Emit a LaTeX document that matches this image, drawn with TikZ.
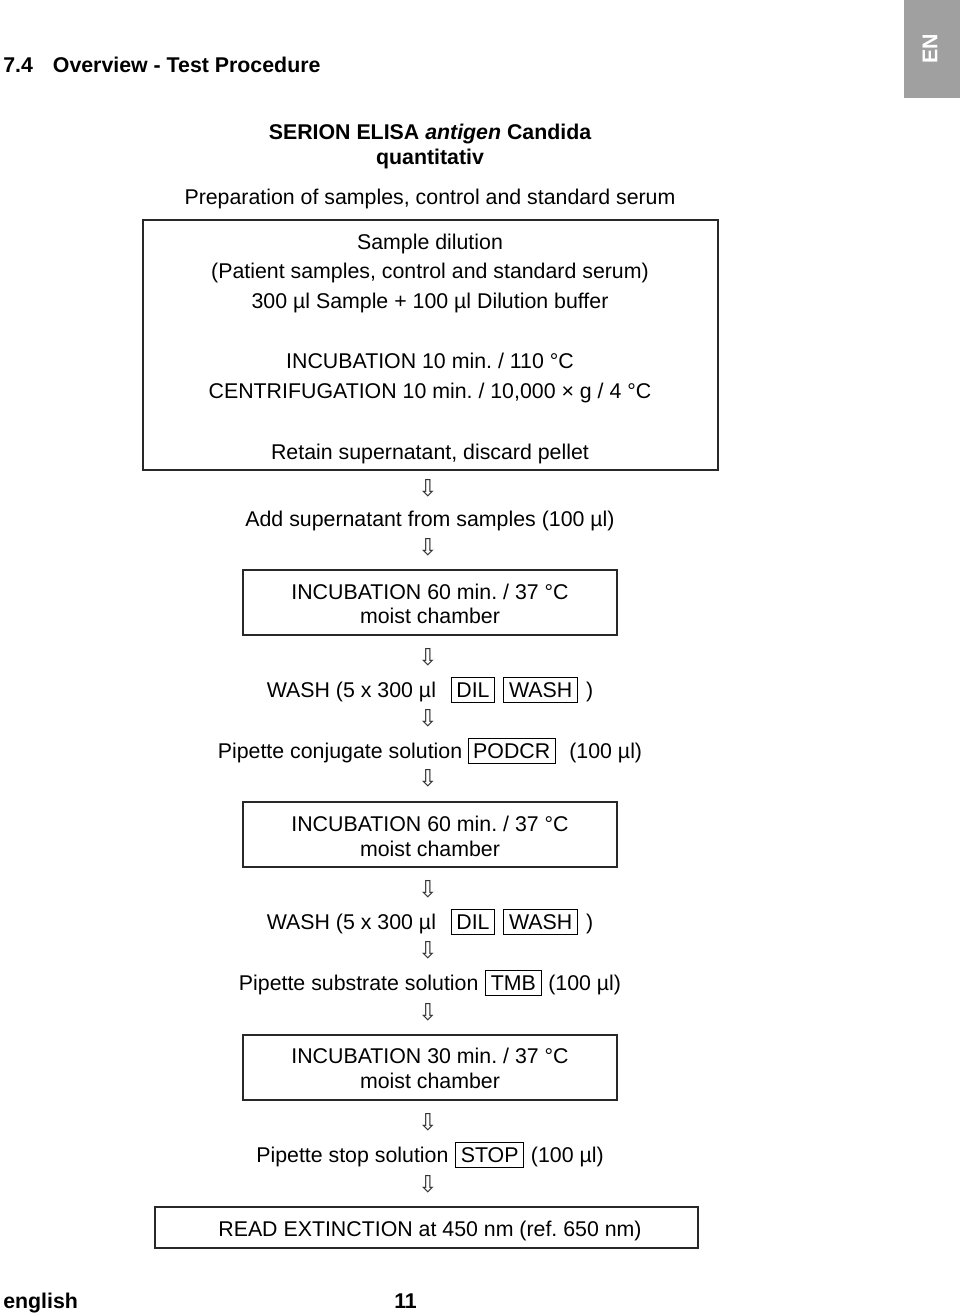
\documentclass[tikz,border=0pt]{standalone}
\usepackage{fontspec}
\setmainfont{Liberation Sans}
\newfontfamily\symfont{DejaVu Sans}
\definecolor{tabgray}{RGB}{160,160,160}
\definecolor{lineblack}{RGB}{40,40,40}
\newcommand\lbl[1]{{\setlength\fboxsep{0pt}\setlength\fboxrule{0.8pt}\fbox{\hspace{3.5pt}\rule[-4pt]{0pt}{18.5pt}#1\hspace{3.5pt}}}}
\frenchspacing
\begin{document}
\frenchspacing
\begin{tikzpicture}[x=0.75pt,y=-0.75pt,
  txt/.style={font=\frenchspacing\fontsize{16}{19}\selectfont, inner sep=0pt, anchor=base},
  btxt/.style={font=\frenchspacing\bfseries\fontsize{16}{19}\selectfont, inner sep=0pt, anchor=base},
  frame/.style={draw=lineblack, line width=1.1pt, inner sep=0pt},
  darr/.style={font=\symfont\fontsize{17.5}{17.5}\selectfont, inner sep=0pt, text=black!80}]
\useasboundingbox (0,0) rectangle (960,1316);

% header
\node[btxt, anchor=base west] (head) at (3,73) {7.4\hspace{15pt}Overview - Test Procedure};
\fill[tabgray] (904,0) rectangle (960,98);
\node[btxt, text=white, rotate=90, anchor=center] (en) at (930,49) {EN};

% title
\node[btxt] (t1) at (430,140) {SERION ELISA \textit{antigen} Candida};
\node[btxt] (t2) at (430,165) {quantitativ};
\node[txt] (prep) at (430,205) {Preparation of samples, control and standard serum};

% box 1
\node[frame, minimum width={575*0.75pt}, minimum height={250*0.75pt}] (b1) at (430.5,345) {};
\node[txt] (l1) at (430,249) {Sample dilution};
\node[txt] (l2) at (430,278) {(Patient samples, control and standard serum)};
\node[txt] (l3) at (430,308) {300 µl Sample + 100 µl Dilution buffer};
\node[txt] (l4) at (430,368) {INCUBATION 10 min. / 110 °C};
\node[txt] (l5) at (430,398) {CENTRIFUGATION 10 min. / 10,000 × g / 4 °C};
\node[txt] (l6) at (430,459) {Retain supernatant, discard pellet};

\node[darr] (a1) at (428,488) {⇩};
\node[txt] (add) at (430,526) {Add supernatant from samples (100 µl)};
\node[darr] (a2) at (428,547) {⇩};

% box 2
\node[frame, minimum width={374*0.75pt}, minimum height={65*0.75pt}] (b2) at (430,602.5) {};
\node[txt] (b2a) at (430,599) {INCUBATION 60 min. / 37 °C};
\node[txt] (b2b) at (430,623) {moist chamber};

\node[darr] (a3) at (428,657) {⇩};
\node[txt] (w1) at (430,697) {WASH (5 x 300 µl\hspace{11pt}\lbl{DIL}\hspace{6pt}\lbl{WASH}\hspace{6pt})};
\node[darr] (a4) at (428,718) {⇩};
\node[txt] (pc) at (430,758) {Pipette conjugate solution\hspace{4pt}\lbl{PODCR}\hspace{10pt}(100 µl)};
\node[darr] (a5) at (428,778) {⇩};

% box 3
\node[frame, minimum width={374*0.75pt}, minimum height={65*0.75pt}] (b3) at (430,834.5) {};
\node[txt] (b3a) at (430,831) {INCUBATION 60 min. / 37 °C};
\node[txt] (b3b) at (430,856) {moist chamber};

\node[darr] (a6) at (428,889) {⇩};
\node[txt] (w2) at (430,929) {WASH (5 x 300 µl\hspace{11pt}\lbl{DIL}\hspace{6pt}\lbl{WASH}\hspace{6pt})};
\node[darr] (a7) at (428,950) {⇩};
\node[txt] (ps) at (430,990) {Pipette substrate solution\hspace{5pt}\lbl{TMB}\hspace{5pt}(100 µl)};
\node[darr] (a8) at (428,1012) {⇩};

% box 4
\node[frame, minimum width={374*0.75pt}, minimum height={65*0.75pt}] (b4) at (430,1067.5) {};
\node[txt] (b4a) at (430,1063) {INCUBATION 30 min. / 37 °C};
\node[txt] (b4b) at (430,1088) {moist chamber};

\node[darr] (a9) at (428,1122) {⇩};
\node[txt] (pst) at (430,1162) {Pipette stop solution\hspace{5pt}\lbl{STOP}\hspace{5pt}(100 µl)};
\node[darr] (a10) at (428,1184) {⇩};

% box 5
\node[frame, minimum width={543*0.75pt}, minimum height={41*0.75pt}] (b5) at (426.5,1227.5) {};
\node[txt] (rd) at (430,1236) {READ EXTINCTION at 450 nm (ref. 650 nm)};

% footer
\node[btxt, anchor=base west] (eng) at (3,1308) {english};
\node[btxt, anchor=base west] (pg) at (394,1308) {11};
\end{tikzpicture}
\end{document}
